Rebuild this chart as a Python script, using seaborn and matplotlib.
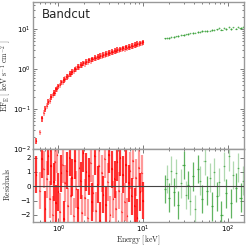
import seaborn as sns
import matplotlib
matplotlib.use("Agg")
import matplotlib.pyplot as plt
import pandas as pd

# red spectrum (low energy instrument)
red_energy = [0.55, 0.60, 0.64, 0.67, 0.70, 0.73, 0.76, 0.79, 0.82, 0.85,
              0.88, 0.91, 0.94, 0.97, 1.00, 1.04, 1.08, 1.12, 1.16, 1.20,
              1.25, 1.30, 1.35, 1.40, 1.45, 1.51, 1.57, 1.63, 1.69, 1.76,
              1.83, 1.90, 1.97, 2.05, 2.13, 2.21, 2.30, 2.39, 2.48, 2.58,
              2.68, 2.79, 2.90, 3.01, 3.13, 3.25, 3.38, 3.51, 3.65, 3.79,
              3.94, 4.10, 4.26, 4.43, 4.60, 4.78, 4.97, 5.17, 5.37, 5.58,
              5.80, 6.03, 6.27, 6.52, 6.78, 7.05, 7.33, 7.62, 7.92, 8.23,
              8.56, 8.90, 9.25, 9.62, 10.0]
red_flux = [0.016, 0.026, 0.058, 0.080, 0.10, 0.12, 0.15, 0.16, 0.20, 0.22,
            0.25, 0.255, 0.31, 0.32, 0.37, 0.39, 0.46, 0.47, 0.54, 0.56,
            0.64, 0.65, 0.75, 0.76, 0.86, 0.87, 0.98, 1.00, 1.12, 1.12,
            1.25, 1.24, 1.38, 1.37, 1.50, 1.49, 1.63, 1.61, 1.75, 1.73,
            1.88, 1.85, 2.01, 1.99, 2.14, 2.10, 2.27, 2.22, 2.40, 2.36,
            2.53, 2.49, 2.67, 2.63, 2.82, 2.77, 2.96, 2.92, 3.12, 3.07,
            3.29, 3.24, 3.46, 3.40, 3.62, 3.58, 3.81, 3.75, 4.00, 3.95,
            4.20, 4.15, 4.42, 4.37, 4.60]
red_resid = [0.8, -0.3, 1.9, 1.2, -1.6, 0.5, 2.1, -0.9, 1.4, -2.0,
             0.3, 1.7, -1.2, 2.2, -0.4, -1.8, 0.9, 1.5, -2.3, 0.2,
             1.1, -1.4, 2.0, -0.7, 0.6, -2.1, 1.8, -0.2, -1.5, 1.3,
             0.4, -1.9, 2.3, -0.8, 1.0, -2.2, 0.7, 1.6, -1.1, -0.5,
             2.1, -1.7, 0.1, 1.4, -2.4, 0.9, -0.6, 1.9, -1.3, 0.3,
             2.2, -2.0, 1.2, -0.9, 0.5, -1.6, 1.7, -0.3, 2.0, -1.8,
             0.8, -1.1, 1.5, -2.1, 0.2, 1.1, -0.7, 1.8, -1.4, 0.6,
             -2.2, 1.3, -0.4, 0.9, -1.0]

# green spectrum (high energy instrument)
green_energy = [18, 19, 20, 21.5, 23, 24.5, 26, 28, 30, 32,
                34, 36, 38.5, 41, 44, 47, 50, 53, 57, 61,
                65, 69, 74, 79, 84, 90, 96, 102, 109, 116,
                124, 132, 141, 150]
green_flux = [5.8, 5.9, 6.0, 6.2, 6.3, 6.5, 6.7, 6.9, 7.1, 7.3,
              7.5, 7.7, 7.9, 8.1, 8.3, 8.5, 8.7, 8.8, 9.0, 9.1,
              9.3, 9.4, 9.7, 10.4, 9.6, 10.5, 9.9, 11.2, 10.1, 10.9,
              10.2, 11.3, 10.6, 11.0]
green_resid = [-0.2, 0.5, -0.8, 1.1, -0.4, 0.9, -1.3, 0.2, 1.5, -0.6,
               0.1, -1.0, 0.7, -1.6, 1.2, 0.4, -0.9, 1.8, -0.3, 0.6,
               -1.4, 1.0, -0.7, 0.3, -2.0, 1.4, -0.5, 2.1, -1.2, 0.8,
               -0.1, 1.3, -0.8, 0.4]

red_relerr = 0.16
green_relerr = 0.05
red_res_err = 1.3
green_res_err = 1.0

red = pd.DataFrame({"E": red_energy, "F": red_flux, "R": red_resid})
green = pd.DataFrame({"E": green_energy, "F": green_flux, "R": green_resid})

sns.set_style("ticks")
plt.rcParams["mathtext.fontset"] = "cm"
plt.rcParams["font.family"] = ["DejaVu Sans"]

fig = plt.figure(figsize=(2.49, 2.46), dpi=100)
ax1 = fig.add_axes([0.1325, 0.394, 0.8475, 0.598])
ax2 = fig.add_axes([0.1325, 0.0976, 0.8475, 0.2964], sharex=ax1)

frame = "#999999"
gcol = "#3aa23a"


def draw(ax, df, col, ycol, yerr, xfrac, lw):
    for i, a in ((0, 0.8), (1, 0.4)):
        sub = df.iloc[i::2]
        ax.errorbar(sub["E"], sub[ycol], yerr=yerr(sub), xerr=sub["E"] * xfrac,
                    fmt="none", ecolor=col, elinewidth=lw, alpha=a)
    sns.scatterplot(data=df, x="E", y=ycol, ax=ax, color=col, s=1,
                    linewidth=0, alpha=0.6, legend=False)


draw(ax1, red, "red", "F", lambda d: d["F"] * red_relerr, 0.02, 1.2)
draw(ax1, green, gcol, "F", lambda d: d["F"] * green_relerr, 0.03, 0.8)
draw(ax2, red, "red", "R", lambda d: [red_res_err] * len(d), 0.02, 1.6)
draw(ax2, green, gcol, "R", lambda d: [green_res_err] * len(d), 0.03, 0.9)

ax2.axhline(0, color="#444444", lw=0.8, zorder=5)

for ax in (ax1, ax2):
    ax.set_xscale("log")
    ax.tick_params(which="both", direction="in", top=True, right=True,
                   colors="#666666", labelcolor="black", labelsize=5,
                   width=0.6, pad=1.5)
    ax.tick_params(which="major", length=3)
    ax.tick_params(which="minor", length=1.5)
    for s in ax.spines.values():
        s.set_color(frame)
        s.set_linewidth(1.0)
    ax.set_xlabel("")
    ax.set_ylabel("")

ax1.set_yscale("log")
ax1.set_ylim(0.01, 47)
ax1.set_xlim(0.5, 155)
ax2.set_ylim(-2.5, 2.6)
ax2.set_yticks([-2, -1, 0, 1, 2])
ax2.set_yticklabels(["\u22122", "\u22121", "0", "1", "2"])
ax1.tick_params(labelbottom=False)

# axis labels placed by hand, the space round the axes is tight
fig.text(0.026, 0.69, r"$\mathrm{EF_E\ [\ keV\ s^{-1}\ cm^{-2}\ ]}$", fontsize=5.5,
         rotation=90, ha="center", va="center")
fig.text(0.026, 0.25, r"$\mathrm{Residuals}$", fontsize=5.5,
         rotation=90, ha="center", va="center")
fig.text(0.555, 0.022, r"$\mathrm{Energy\ [keV]}$", fontsize=5.5,
         ha="center", va="center")

ax1.text(0.04, 0.96, "Bandcut", transform=ax1.transAxes, fontsize=8.5,
         ha="left", va="top")

fig.savefig("out.png", dpi=100)
